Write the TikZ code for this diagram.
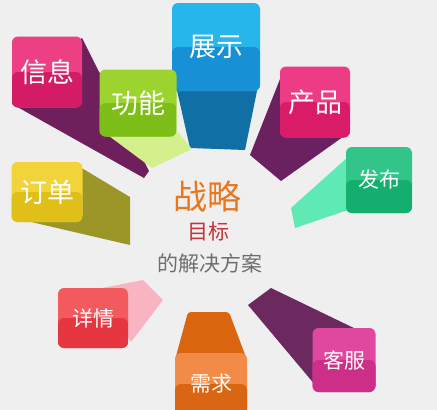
\documentclass[tikz,border=0pt]{standalone}
\usepackage{fontspec}
\newfontfamily\cjk{Noto Sans CJK SC}
\usepackage{tikz}
\usetikzlibrary{calc}
\definecolor{bg}{HTML}{EFEFEF}
\definecolor{xinxiA}{HTML}{EC3F84}\definecolor{xinxiB}{HTML}{D41C66}\definecolor{xinxiR}{HTML}{6E1F5C}
\definecolor{gongnengA}{HTML}{9DD32E}\definecolor{gongnengB}{HTML}{7DBE19}\definecolor{gongnengR}{HTML}{D4F08C}
\definecolor{zhanshiA}{HTML}{27B5EC}\definecolor{zhanshiB}{HTML}{1890D5}\definecolor{zhanshiR}{HTML}{106FA5}
\definecolor{chanpinA}{HTML}{EE3B85}\definecolor{chanpinB}{HTML}{DA1C68}\definecolor{chanpinR}{HTML}{6B2060}
\definecolor{fabuA}{HTML}{33C48A}\definecolor{fabuB}{HTML}{14AE6E}\definecolor{fabuR}{HTML}{5FE9B5}
\definecolor{dingdanA}{HTML}{F2D33A}\definecolor{dingdanB}{HTML}{DFBF18}\definecolor{dingdanR}{HTML}{9C9528}
\definecolor{xiangqingA}{HTML}{F25A5E}\definecolor{xiangqingB}{HTML}{E63640}\definecolor{xiangqingR}{HTML}{F8B4C0}
\definecolor{xuqiuA}{HTML}{F28A48}\definecolor{xuqiuB}{HTML}{DA6614}\definecolor{xuqiuR}{HTML}{D9650E}
\definecolor{kefuA}{HTML}{E0479F}\definecolor{kefuB}{HTML}{CC2E88}\definecolor{kefuR}{HTML}{6C2960}
\tikzset{
		tile/.style 2 args={rounded corners=6pt, fill=#1, text=white, inner sep=0pt,
			font=\cjk\fontsize{27}{27}\selectfont,
			path picture={\fill[#2] (path picture bounding box.west) rectangle (path picture bounding box.south east);}},
		small tile/.style={font=\cjk\fontsize{21}{21}\selectfont},
		}

\begin{document}
\begin{tikzpicture}[x=1pt,y=-1pt]
					\tikzstyle{every node}=[]
					%BACKGROUND
					\fill[bg] (0,0) rectangle (437,410);
					\useasboundingbox (0,0) rectangle (437,410);
					%SHOWCASE
					\fill[zhanshiR] (176,86) -- (190,148) -- (245,150) -- (258,86) -- cycle;
					\node[tile={zhanshiA}{zhanshiB}, minimum width=88pt, minimum height=88pt](zhanshi) at (216,47){展示};
					%INFO
					\fill[xinxiR] (82,38) -- (149,171) -- (144,178) -- (12,104) -- cycle;
					\node[tile={xinxiA}{xinxiB}, minimum width=70pt, minimum height=71pt](xinxi) at (47,72){信息};
					%FUNCTION
					\fill[gongnengR] (101,130) -- (152,168) -- (192,149) -- (176,130) -- cycle;
					\node[tile={gongnengA}{gongnengB}, minimum width=77pt, minimum height=67pt](gongneng) at (138,103){功能};
					%PRODUCT
					\fill[chanpinR] (282,74) -- (250,155) -- (281,181) -- (347,134) -- cycle;
					\node[tile={chanpinA}{chanpinB}, minimum width=70pt, minimum height=71pt](chanpin) at (315,102){产品};
					%RELEASE
					\fill[fabuR] (348,157) -- (291,208) -- (295,228) -- (348,210) -- cycle;
					\node[tile={fabuA}{fabuB}, small tile, minimum width=66pt, minimum height=66pt](fabu) at (379,180){发布};
					%ORDER
					\fill[dingdanR] (80,167) -- (130,197) -- (130,245) -- (14,218) -- cycle;
					\node[tile={dingdanA}{dingdanB}, minimum width=71pt, minimum height=60pt](dingdan) at (47,192){订单};
					%DETAILS
					\fill[xiangqingR] (97,289) -- (143,280) -- (163,300) -- (131,342) -- cycle;
					\node[tile={xiangqingA}{xiangqingB}, small tile, minimum width=70pt, minimum height=60pt](xiangqing) at (93,318){详情};
					%DEMAND
					\fill[xuqiuR, rounded corners=3pt] (188,312) -- (229,312) -- (247,360) -- (175,360) -- cycle;
					\node[tile={xuqiuA}{xuqiuB}, small tile, minimum width=72pt, minimum height=62pt](xuqiu) at (211,384){需求};
					%SERVICE
					\fill[kefuR] (248,305) -- (271,288) -- (358,330) -- (316,386) -- cycle;
					\node[tile={kefuA}{kefuB}, small tile, minimum width=63pt, minimum height=64pt](kefu) at (344,360){客服};
					%CENTRE
					\node[text={rgb,255:red,232;green,119;blue,30}, font=\cjk\fontsize{34}{34}\selectfont](zhanlue) at (207,197){战略};
					\node[text={rgb,255:red,196;green,52;blue,58}, font=\cjk\fontsize{21}{21}\selectfont](mubiao) at (208,232){目标};
					\node[text={rgb,255:red,110;green,110;blue,110}, font=\cjk\fontsize{21}{21}\selectfont](fangan) at (210,263){的解决方案};
				\end{tikzpicture}
\end{document}
